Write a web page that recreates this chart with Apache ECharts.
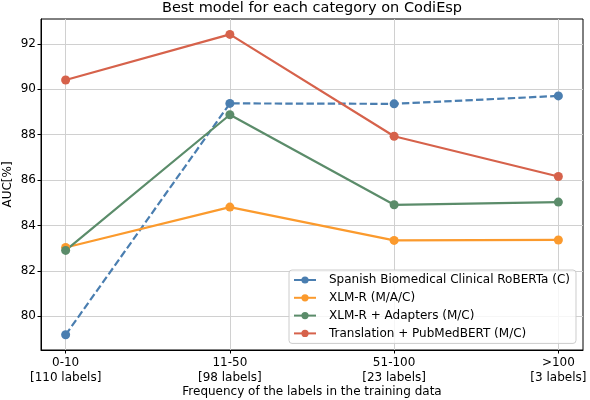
<!DOCTYPE html>
<html>
<head>
<meta charset="utf-8">
<script src="https://cdn.jsdelivr.net/npm/echarts@6/dist/echarts.min.js"></script>
<style>
    html, body { margin: 0; padding: 0; background: #fff; }
    #chart { width: 590px; height: 400px; }
</style>
</head>
<body>
<div id="chart"></div>
<script>
// frequency buckets on the x axis
var categories = ['0-10\n[110 labels]', '11-50\n[98 labels]', '51-100\n[23 labels]', '>100\n[3 labels]'];
var yTicks = [80, 82, 84, 86, 88, 90, 92];

// AUC values
var spanishRoberta = [79.18, 89.38, 89.36, 89.71];
var xlmR = [83.03, 84.81, 83.34, 83.36];
var xlmRAdapters = [82.90, 88.88, 84.91, 85.03];
var translationPubmed = [90.41, 92.42, 87.93, 86.16];

var seriesNames = [
    'Spanish Biomedical Clinical RoBERTa (C)',
    'XLM-R (M/A/C)',
    'XLM-R + Adapters (M/C)',
    'Translation + PubMedBERT (M/C)'
];
var colors = ['#4a7eb0', '#fb9a2d', '#5b8c6a', '#d6624b'];

function toPoints(values) {
    var pts = [];
    for (var i = 0; i < values.length; i++) {
        pts.push([i, values[i]]);
    }
    return pts;
}

function makeSeries(name, values, color, dashed) {
    return {
        name: name,
        type: 'line',
        data: toPoints(values),
        symbol: 'circle',
        symbolSize: 9,
        itemStyle: { color: color },
        lineStyle: {
            color: color,
            width: 2.2,
            type: dashed ? [7.4, 3.2] : 'solid'
        }
    };
}

// legend lines are drawn solid, like the reference
var legendData = seriesNames.map(function (n) {
    return { name: n, lineStyle: { type: 'solid' } };
});

var myChart = echarts.init(document.getElementById('chart'));
var fontFam = 'DejaVu Sans';
var option = {
    animation: false,
    textStyle: { fontFamily: fontFam },
    title: {
        text: 'Best model for each category on CodiEsp',
        left: 312,
        textAlign: 'center',
        top: 1,
        padding: 0,
        textStyle: { fontFamily: fontFam, fontSize: 14.5, fontWeight: 'normal', color: '#000' }
    },
    grid: {
        left: 41,
        right: 7,
        top: 19,
        bottom: 50,
        outerBoundsMode: 'none',
        containLabel: false,
        show: true,
        borderColor: '#000',
        borderWidth: 1,
        backgroundColor: 'transparent'
    },
    legend: {
        orient: 'vertical',
        left: 289,
        top: 270,
        padding: [3, 6, 3, 4],
        itemGap: 3.8,
        itemWidth: 22,
        itemHeight: 9,
        borderColor: '#cccccc',
        borderWidth: 1,
        borderRadius: 3,
        backgroundColor: 'rgba(255,255,255,0.8)',
        textStyle: {
            fontFamily: fontFam,
            fontSize: 12,
            color: '#000',
            lineHeight: 14,
            padding: [0, 0, 0, 8]
        },
        data: legendData
    },
    xAxis: {
        type: 'value',
        min: -0.15,
        max: 3.15,
        name: 'Frequency of the labels in the training data',
        nameLocation: 'middle',
        nameGap: 36,
        nameMoveOverlap: false,
        nameTextStyle: { fontFamily: fontFam, fontSize: 12, color: '#000' },
        axisLine: { show: true, onZero: false, lineStyle: { color: '#000', width: 1 } },
        axisTick: { show: true, inside: false, length: 3.5, customValues: [0, 1, 2, 3], lineStyle: { color: '#000' } },
        axisLabel: {
            customValues: [0, 1, 2, 3],
            formatter: function (v) { return categories[Math.round(v)]; },
            fontFamily: fontFam,
            fontSize: 12,
            color: '#000',
            lineHeight: 14.5,
            margin: 6
        },
        splitLine: { show: true, lineStyle: { color: '#d0d0d0', width: 1 } }
    },
    yAxis: {
        type: 'value',
        min: 78.51,
        max: 93.1,
        name: 'AUC[%]',
        nameLocation: 'middle',
        nameRotate: 90,
        nameGap: 27,
        nameMoveOverlap: false,
        nameTextStyle: { fontFamily: fontFam, fontSize: 12, color: '#000' },
        axisLine: { show: true, onZero: false, lineStyle: { color: '#000', width: 1 } },
        axisTick: { show: true, inside: false, length: 3.5, customValues: yTicks, lineStyle: { color: '#000' } },
        axisLabel: {
            customValues: yTicks,
            fontFamily: fontFam,
            fontSize: 12,
            color: '#000',
            margin: 5
        },
        splitLine: { show: true, lineStyle: { color: '#d0d0d0', width: 1 } }
    },
    series: [
        makeSeries(seriesNames[0], spanishRoberta, colors[0], true),
        makeSeries(seriesNames[1], xlmR, colors[1], false),
        makeSeries(seriesNames[2], xlmRAdapters, colors[2], false),
        makeSeries(seriesNames[3], translationPubmed, colors[3], false)
    ]
};
myChart.setOption(option);
window.addEventListener('resize', function () {
    myChart.resize();
});
</script>
</body>
</html>
